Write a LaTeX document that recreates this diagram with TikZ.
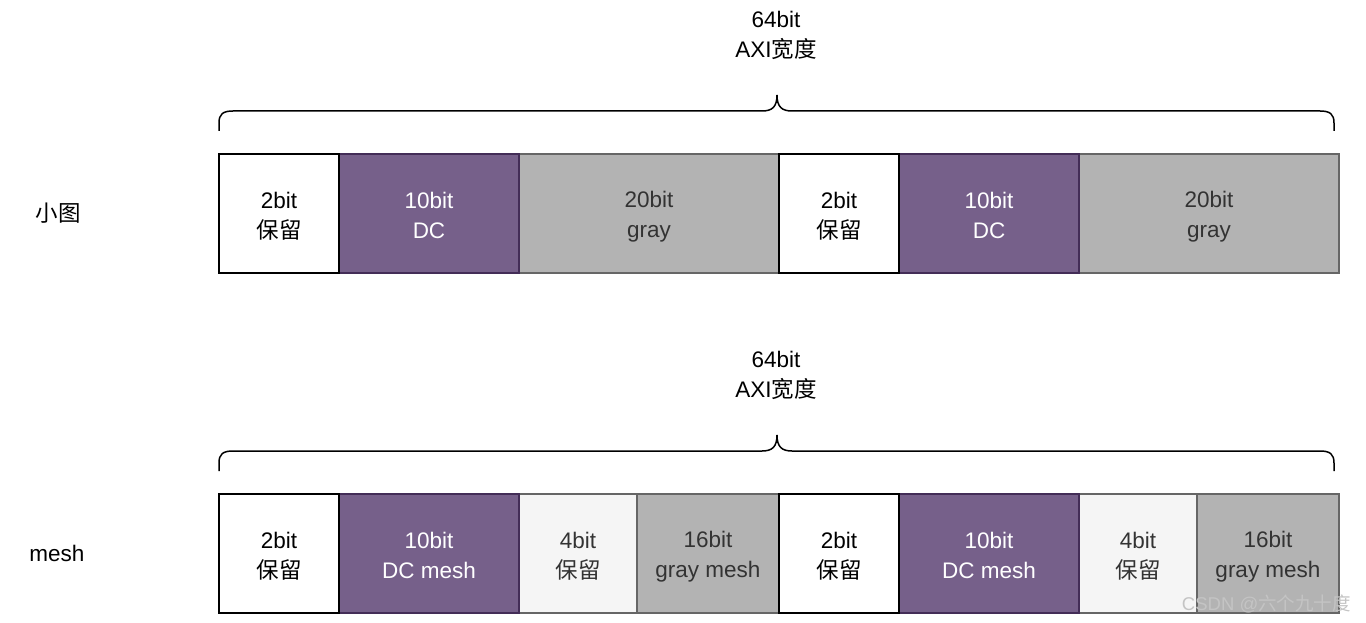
\documentclass[tikz,border=0pt]{standalone}
\usepackage{fontspec}
\setmainfont{Liberation Sans}
\newfontfamily\cjk{Noto Sans CJK SC}
\definecolor{purfill}{HTML}{76608A}
\definecolor{purline}{HTML}{432D57}
\definecolor{grayfill}{HTML}{B3B3B3}
\definecolor{lightfill}{HTML}{F5F5F5}
\definecolor{boxline}{HTML}{666666}
\definecolor{darktext}{HTML}{333333}
\definecolor{wmark}{HTML}{C4C4C4}
\newcommand{\ls}{\rule[-3.5pt]{0pt}{26.5pt}}
\begin{document}
\begin{tikzpicture}[x=1pt,y=-1pt,
  cell/.style={rectangle, inner sep=0pt, outer sep=0pt, minimum height=119pt,
    line width=1.3pt, align=center, font=\fontsize{22.5}{30}\selectfont},
  wbox/.style={cell, draw=black, fill=white, text=black},
  pbox/.style={cell, draw=purline, fill=purfill, text=white},
  gbox/.style={cell, draw=boxline, fill=grayfill, text=darktext},
  lbox/.style={cell, draw=boxline, fill=lightfill, text=darktext},
  lbl/.style={inner sep=0pt, align=center, font=\fontsize{22.5}{30}\selectfont},
  brace/.style={draw=black, line width=1.5pt}]
\useasboundingbox (0,0) rectangle (1366,623);

% ---------- top row ----------
\node[lbl] (t1) at (776,32.5) {\ls 64bit\\\ls AXI{\cjk 宽度}};
\draw[brace] (219,131) -- (219,123) .. controls (219,114) and (223,111) .. (233,111)
  -- (762,111) .. controls (772,111) and (777,107) .. (777,95)
  .. controls (777,107) and (782,111) .. (792,111) -- (1320,111)
  .. controls (1330,111) and (1334,114) .. (1334,123) -- (1334,131);
\node[lbl] (r1) at (58,213) {{\cjk 小图}};

\node[gbox, minimum width=260pt] (a3) at (649,213.5) {\ls 20bit\\\ls gray};
\node[gbox, minimum width=260pt] (a6) at (1209,213.5) {\ls 20bit\\\ls gray};
\node[pbox, minimum width=180pt] (a2) at (429,213.5) {\ls 10bit\\\ls DC};
\node[pbox, minimum width=180pt] (a5) at (989,213.5) {\ls 10bit\\\ls DC};
\node[wbox, minimum width=120pt] (a1) at (279,213.5) {\ls 2bit\\\ls {\cjk 保留}};
\node[wbox, minimum width=120pt] (a4) at (839,213.5) {\ls 2bit\\\ls {\cjk 保留}};

% ---------- bottom row ----------
\node[lbl] (t2) at (776,372.5) {\ls 64bit\\\ls AXI{\cjk 宽度}};
\draw[brace] (219,471) -- (219,463) .. controls (219,454) and (223,451) .. (233,451)
  -- (762,451) .. controls (772,451) and (777,447) .. (777,435)
  .. controls (777,447) and (782,451) .. (792,451) -- (1320,451)
  .. controls (1330,451) and (1334,454) .. (1334,463) -- (1334,471);
\node[lbl] (r2) at (57,553) {mesh};

\node[lbox, minimum width=118pt] (b3) at (578,553.5) {\ls 4bit\\\ls {\cjk 保留}};
\node[gbox, minimum width=142pt] (b4) at (708,553.5) {\ls 16bit\\\ls gray mesh};
\node[lbox, minimum width=118pt] (b7) at (1138,553.5) {\ls 4bit\\\ls {\cjk 保留}};
\node[gbox, minimum width=142pt] (b8) at (1268,553.5) {\ls 16bit\\\ls gray mesh};
\node[pbox, minimum width=180pt] (b2) at (429,553.5) {\ls 10bit\\\ls DC mesh};
\node[pbox, minimum width=180pt] (b6) at (989,553.5) {\ls 10bit\\\ls DC mesh};
\node[wbox, minimum width=120pt] (b1) at (279,553.5) {\ls 2bit\\\ls {\cjk 保留}};
\node[wbox, minimum width=120pt] (b5) at (839,553.5) {\ls 2bit\\\ls {\cjk 保留}};

% ---------- watermark ----------
\node[anchor=east, inner sep=0pt, text=wmark, font=\fontsize{18.5}{20}\selectfont]
  (wm) at (1351,604) {CSDN @{\cjk 六个九十度}};
\end{tikzpicture}
\end{document}
